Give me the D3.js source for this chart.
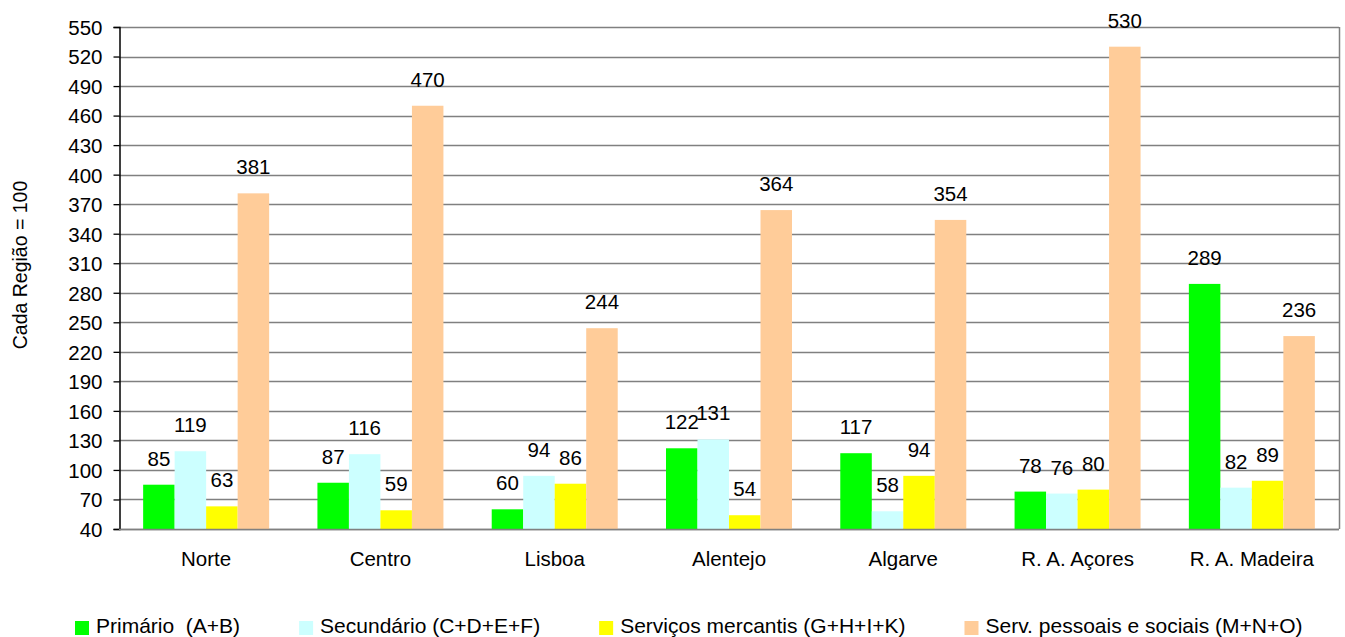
<!DOCTYPE html>
<html>
<head>
<meta charset="utf-8">
<script src="https://cdn.jsdelivr.net/npm/d3@7"></script>
<style>
  html, body { margin: 0; padding: 0; background: #fff; }
  svg { display: block; }
  text { font-family: "Liberation Sans", Arial, sans-serif; fill: #000; }
</style>
</head>
<body>
<svg id="chart" width="1345" height="637"></svg>
<script>
const categories = ["Norte", "Centro", "Lisboa", "Alentejo", "Algarve", "R. A. Açores", "R. A. Madeira"];
const seriesNames = ["Primário  (A+B)", "Secundário (C+D+E+F)", "Serviços mercantis (G+H+I+K)", "Serv. pessoais e sociais (M+N+O)"];
const primario   = [85, 87, 60, 122, 117, 78, 289];
const secundario = [119, 116, 94, 131, 58, 76, 82];
const mercantis  = [63, 59, 86, 54, 94, 80, 89];
const pessoais   = [381, 470, 244, 364, 354, 530, 236];
const yTicks = d3.range(40, 551, 30);
const yTitle = "Cada Região = 100";
const colors = ["#00FF00", "#CCFFFF", "#FFFF00", "#FFCC99"];

const series = [primario, secundario, mercantis, pessoais];

const svg = d3.select("#chart");
const pLeft = 119, pRight = 1339, pTop = 27, pBottom = 529;

const x0 = d3.scaleBand().domain(categories).range([pLeft, pRight]).paddingInner(0).paddingOuter(0);
const groupW = 126;
const innerX = d3.scaleBand().domain(d3.range(4)).range([(x0.bandwidth() - groupW) / 2, (x0.bandwidth() + groupW) / 2]);

const y = d3.scaleLinear().domain([40, 550]).range([pBottom, pTop]);

// gridlines
svg.append("g")
  .selectAll("line")
  .data(yTicks)
  .join("line")
  .attr("x1", pLeft).attr("x2", pRight)
  .attr("y1", d => Math.round(y(d)) + 0.5).attr("y2", d => Math.round(y(d)) + 0.5)
  .attr("stroke", "#808080").attr("stroke-width", 1.3);

// right border
svg.append("line")
  .attr("x1", pRight + 0.5).attr("x2", pRight + 0.5)
  .attr("y1", y(550)).attr("y2", y(40))
  .attr("stroke", "#808080").attr("stroke-width", 1.5);

// bars
const groups = svg.append("g").selectAll("g")
  .data(categories)
  .join("g")
  .attr("transform", d => `translate(${x0(d)},0)`);

groups.selectAll("rect")
  .data((d, i) => series.map((s, k) => ({ k, v: s[i] })))
  .join("rect")
  .attr("x", d => innerX(d.k))
  .attr("width", innerX.bandwidth())
  .attr("y", d => y(d.v))
  .attr("height", d => y(40) - y(d.v))
  .attr("fill", d => colors[d.k]);

// value labels
groups.selectAll("text.val")
  .data((d, i) => series.map((s, k) => ({ k, v: s[i] })))
  .join("text")
  .attr("class", "val")
  .attr("x", d => innerX(d.k) + innerX.bandwidth() / 2)
  .attr("y", d => y(d.v) - 19)
  .attr("text-anchor", "middle")
  .attr("font-size", "20.5px")
  .text(d => d.v);

// y axis
const yAxis = d3.axisLeft(y).tickValues(yTicks).tickSize(6).tickPadding(11).tickFormat(d3.format("d"));
const ga = svg.append("g").attr("transform", `translate(${pLeft + 0.5},0)`).call(yAxis);
ga.select(".domain").attr("stroke", "#000").attr("stroke-width", 1.5);
ga.selectAll(".tick line").attr("stroke", "#000").attr("stroke-width", 1.3);
ga.selectAll(".tick text").attr("font-size", "20.5px").attr("font-family", "Liberation Sans, Arial, sans-serif").attr("fill", "#000").attr("dy", "0.36em");

// bottom axis line
svg.append("line")
  .attr("x1", pLeft).attr("x2", pRight)
  .attr("y1", y(40) + 0.5).attr("y2", y(40) + 0.5)
  .attr("stroke", "#808080").attr("stroke-width", 1.5);

// category labels
svg.append("g").selectAll("text")
  .data(categories)
  .join("text")
  .attr("x", d => x0(d) + x0.bandwidth() / 2)
  .attr("y", 566)
  .attr("text-anchor", "middle")
  .attr("font-size", "20.5px")
  .text(d => d);

// y title
svg.append("text")
  .attr("transform", "translate(27,265) rotate(-90)")
  .attr("text-anchor", "middle")
  .attr("font-size", "19.5px")
  .text(yTitle);

// legend
const leg = svg.append("g");
let lx = 75;
seriesNames.forEach((name, k) => {
  leg.append("rect").attr("x", lx).attr("y", 621).attr("width", 14).attr("height", 14).attr("fill", colors[k]);
  const t = leg.append("text").attr("x", lx + 21).attr("y", 632.5).attr("font-size", "21px").style("white-space", "pre").text(name);
  const w = t.node().getComputedTextLength();
  lx = lx + 21 + w + 59;
});
</script>
</body>
</html>
